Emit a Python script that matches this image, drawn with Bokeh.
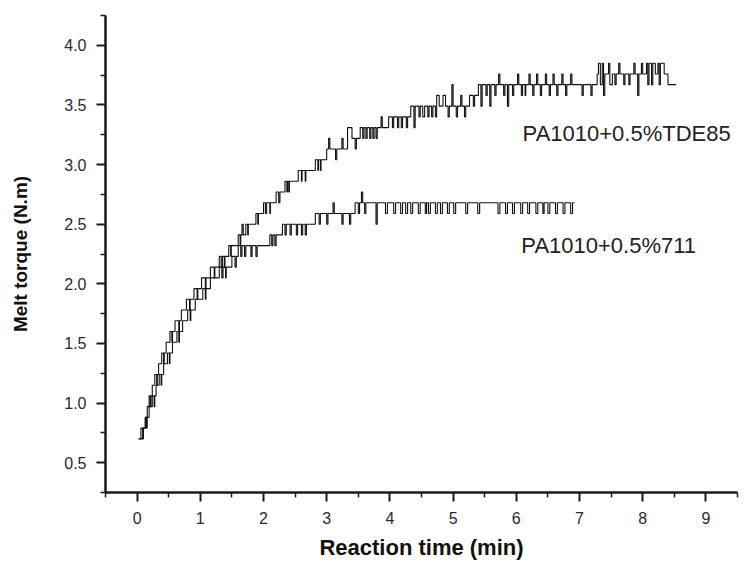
from bokeh.plotting import figure
from bokeh.models import FixedTicker, PrintfTickFormatter, Label
from bokeh.embed import file_html
from bokeh.resources import INLINE

# ---- data ----
x_ticks = [0, 1, 2, 3, 4, 5, 6, 7, 8, 9]
x_minor = [-0.5, 0.5, 1.5, 2.5, 3.5, 4.5, 5.5, 6.5, 7.5, 8.5, 9.5]
y_ticks = [0.5, 1.0, 1.5, 2.0, 2.5, 3.0, 3.5, 4.0]
y_minor = [0.25, 0.75, 1.25, 1.75, 2.25, 2.75, 3.25, 3.75, 4.25]

tde_t = [0.02, 0.06, 0.09, 0.10, 0.13, 0.16, 0.19, 0.21, 0.22, 0.24, 0.28, 0.31, 0.32, 0.34,
         0.39, 0.42, 0.43, 0.46, 0.52, 0.55, 0.56, 0.60, 0.66, 0.67, 0.70, 0.78, 0.83, 0.84,
         0.90, 0.95, 0.96, 1.02, 1.08, 1.09, 1.16, 1.22, 1.23, 1.30, 1.33, 1.35, 1.38, 1.39,
         1.45, 1.48, 1.49, 1.60, 1.63, 1.64, 1.66, 1.68, 1.72, 1.75, 1.76, 1.88, 1.91, 1.92,
         2.00, 2.03, 2.05, 2.10, 2.11, 2.20, 2.24, 2.26, 2.34, 2.37, 2.38, 2.40, 2.41, 2.55,
         2.60, 2.61, 2.66, 2.67, 2.82, 2.86, 2.87, 2.90, 2.91, 3.00, 3.03, 3.05, 3.14, 3.16,
         3.24, 3.26, 3.33, 3.40, 3.45, 3.47, 3.53, 3.57, 3.59, 3.62, 3.64, 3.68, 3.70, 3.73,
         3.75, 3.78, 3.80, 3.86, 3.88, 3.98, 4.04, 4.06, 4.12, 4.14, 4.18, 4.20, 4.26, 4.28,
         4.33, 4.38, 4.40, 4.46, 4.48, 4.52, 4.55, 4.60, 4.62, 4.66, 4.68, 4.72, 4.74, 4.78,
         4.84, 4.88, 4.92, 4.94, 4.98, 5.00, 5.05, 5.07, 5.12, 5.14, 5.18, 5.20, 5.26, 5.32,
         5.34, 5.40, 5.44, 5.46, 5.52, 5.54, 5.58, 5.60, 5.66, 5.68, 5.72, 5.74, 5.80, 5.82,
         5.86, 5.88, 5.94, 5.96, 6.02, 6.04, 6.08, 6.10, 6.14, 6.15, 6.20, 6.22, 6.26, 6.28,
         6.32, 6.34, 6.38, 6.40, 6.46, 6.48, 6.52, 6.54, 6.58, 6.60, 6.64, 6.66, 6.72, 6.74,
         6.78, 6.80, 6.86, 6.88, 7.04, 7.06, 7.18, 7.20, 7.28, 7.30, 7.33, 7.36, 7.38, 7.40,
         7.46, 7.48, 7.52, 7.56, 7.58, 7.62, 7.64, 7.70, 7.72, 7.78, 7.80, 7.86, 7.88, 7.92,
         7.94, 7.98, 8.00, 8.06, 8.08, 8.10, 8.14, 8.16, 8.20, 8.24, 8.26, 8.28, 8.34, 8.40,
         8.53]
tde_v = [0.70, 0.79, 0.70, 0.79, 0.88, 0.97, 1.06, 0.97, 1.06, 1.15, 1.24, 1.15, 1.24, 1.33,
         1.42, 1.33, 1.42, 1.51, 1.60, 1.51, 1.60, 1.69, 1.60, 1.69, 1.78, 1.87, 1.78, 1.87,
         1.96, 1.87, 1.96, 2.05, 1.96, 2.05, 2.14, 2.05, 2.14, 2.23, 2.14, 2.23, 2.14, 2.23,
         2.32, 2.23, 2.32, 2.41, 2.32, 2.41, 2.50, 2.41, 2.50, 2.41, 2.50, 2.59, 2.50, 2.59,
         2.68, 2.59, 2.68, 2.59, 2.68, 2.77, 2.68, 2.77, 2.86, 2.77, 2.86, 2.77, 2.86, 2.95,
         2.86, 2.95, 2.86, 2.95, 3.04, 2.95, 3.04, 2.95, 3.04, 3.13, 3.22, 3.13, 3.04, 3.13,
         3.22, 3.13, 3.31, 3.22, 3.13, 3.22, 3.31, 3.22, 3.31, 3.22, 3.31, 3.22, 3.31, 3.22,
         3.31, 3.22, 3.31, 3.40, 3.31, 3.40, 3.31, 3.40, 3.31, 3.40, 3.31, 3.40, 3.31, 3.40,
         3.49, 3.31, 3.49, 3.40, 3.49, 3.40, 3.49, 3.40, 3.49, 3.40, 3.49, 3.40, 3.58, 3.49,
         3.58, 3.49, 3.40, 3.49, 3.67, 3.49, 3.40, 3.49, 3.58, 3.49, 3.40, 3.49, 3.58, 3.49,
         3.58, 3.67, 3.49, 3.67, 3.58, 3.67, 3.49, 3.67, 3.58, 3.67, 3.76, 3.67, 3.58, 3.67,
         3.49, 3.67, 3.58, 3.67, 3.76, 3.67, 3.58, 3.67, 3.58, 3.67, 3.76, 3.67, 3.58, 3.67,
         3.76, 3.67, 3.58, 3.67, 3.76, 3.67, 3.58, 3.67, 3.76, 3.67, 3.58, 3.67, 3.76, 3.67,
         3.58, 3.67, 3.76, 3.67, 3.58, 3.67, 3.58, 3.67, 3.76, 3.85, 3.67, 3.85, 3.58, 3.76,
         3.85, 3.67, 3.76, 3.67, 3.76, 3.85, 3.76, 3.67, 3.76, 3.67, 3.76, 3.85, 3.76, 3.58,
         3.76, 3.85, 3.76, 3.85, 3.67, 3.85, 3.67, 3.85, 3.76, 3.85, 3.67, 3.85, 3.76, 3.67,
         3.67]

p711_t = [0.04, 0.09, 0.13, 0.15, 0.16, 0.19, 0.24, 0.27, 0.28, 0.30, 0.35, 0.38, 0.39, 0.42,
          0.48, 0.51, 0.52, 0.56, 0.63, 0.66, 0.67, 0.72, 0.80, 0.84, 0.85, 0.92, 1.04, 1.08,
          1.09, 1.16, 1.30, 1.34, 1.36, 1.40, 1.41, 1.50, 1.55, 1.57, 1.60, 1.64, 1.66, 1.70,
          1.72, 1.80, 1.82, 1.88, 1.90, 2.10, 2.13, 2.15, 2.18, 2.20, 2.30, 2.34, 2.36, 2.42,
          2.44, 2.52, 2.54, 2.60, 2.62, 2.66, 2.68, 2.82, 2.88, 2.90, 3.00, 3.02, 3.10, 3.12,
          3.24, 3.26, 3.36, 3.38, 3.45, 3.50, 3.52, 3.55, 3.57, 3.60, 3.62, 3.78, 3.80, 3.93,
          3.96, 4.06, 4.09, 4.17, 4.20, 4.25, 4.28, 4.33, 4.36, 4.45, 4.48, 4.56, 4.58, 4.61,
          4.64, 4.72, 4.75, 4.80, 4.83, 4.91, 4.94, 5.01, 5.04, 5.20, 5.23, 5.39, 5.42, 5.71,
          5.74, 5.83, 5.86, 5.94, 5.97, 6.07, 6.10, 6.18, 6.21, 6.31, 6.34, 6.42, 6.44, 6.50,
          6.53, 6.62, 6.65, 6.74, 6.77, 6.86, 6.89, 6.92]
p711_v = [0.70, 0.79, 0.88, 0.79, 0.88, 0.97, 1.06, 0.97, 1.06, 1.15, 1.24, 1.15, 1.24, 1.33,
          1.42, 1.33, 1.42, 1.51, 1.60, 1.51, 1.60, 1.69, 1.78, 1.69, 1.78, 1.87, 1.96, 1.87,
          1.96, 2.05, 2.14, 2.05, 2.14, 2.05, 2.14, 2.23, 2.14, 2.23, 2.32, 2.23, 2.32, 2.23,
          2.32, 2.23, 2.32, 2.23, 2.32, 2.41, 2.32, 2.41, 2.32, 2.41, 2.50, 2.41, 2.50, 2.41,
          2.50, 2.41, 2.50, 2.41, 2.50, 2.41, 2.50, 2.59, 2.50, 2.59, 2.50, 2.59, 2.68, 2.59,
          2.50, 2.59, 2.50, 2.59, 2.68, 2.59, 2.68, 2.77, 2.68, 2.59, 2.68, 2.50, 2.68, 2.59,
          2.68, 2.59, 2.68, 2.59, 2.68, 2.59, 2.68, 2.59, 2.68, 2.59, 2.68, 2.59, 2.68, 2.59,
          2.68, 2.59, 2.68, 2.59, 2.68, 2.59, 2.68, 2.59, 2.68, 2.59, 2.68, 2.59, 2.68, 2.59,
          2.68, 2.59, 2.68, 2.59, 2.68, 2.59, 2.68, 2.59, 2.68, 2.59, 2.68, 2.59, 2.68, 2.59,
          2.68, 2.59, 2.68, 2.59, 2.68, 2.59, 2.68, 2.68]

label_tde = "PA1010+0.5%TDE85"
label_711 = "PA1010+0.5%711"

FONT = "Liberation Sans"

p = figure(width=741, height=562, x_range=(-0.5, 9.5), y_range=(0.25, 4.25),
           output_backend="svg", toolbar_location=None,
           min_border_left=105, min_border_right=4, min_border_top=15, min_border_bottom=69)
p.outline_line_color = None
p.grid.visible = False
p.background_fill_color = "white"

p.step(tde_t, tde_v, mode="after", line_color="#111111", line_width=1.1)
p.step(p711_t, p711_v, mode="after", line_color="#111111", line_width=1.1)

p.add_layout(Label(x=6.10, y=3.26, text=label_tde, text_font=FONT, text_font_size="22px",
                   text_color="#222222", text_baseline="alphabetic"))
p.add_layout(Label(x=6.08, y=2.32, text=label_711, text_font=FONT, text_font_size="22px",
                   text_color="#222222", text_baseline="alphabetic"))

xa = p.xaxis[0]
xa.ticker = FixedTicker(ticks=x_ticks, minor_ticks=x_minor)
ya = p.yaxis[0]
ya.ticker = FixedTicker(ticks=y_ticks, minor_ticks=y_minor)
ya.formatter = PrintfTickFormatter(format="%.1f")

for ax in (xa, ya):
    ax.axis_line_width = 2.5
    ax.axis_line_color = "#1a1a1a"
    ax.major_tick_line_width = 2
    ax.major_tick_line_color = "#1a1a1a"
    ax.minor_tick_line_width = 1.5
    ax.minor_tick_line_color = "#1a1a1a"
    ax.major_tick_in = 0
    ax.major_tick_out = 9
    ax.minor_tick_in = 0
    ax.minor_tick_out = 5
    ax.major_label_text_font = FONT
    ax.major_label_text_font_size = "16px"
    ax.major_label_text_color = "#2a2a2a"
    ax.axis_label_text_font = FONT
    ax.axis_label_text_font_style = "bold"
    ax.axis_label_text_color = "#111111"
    ax.major_label_standoff = 10

xa.axis_label = "Reaction time (min)"
xa.axis_label_text_font_size = "22px"
xa.axis_label_standoff = 8
ya.axis_label = "Melt torque (N.m)"
ya.axis_label_text_font_size = "19px"
ya.axis_label_standoff = 30

open("out.html", "w").write(file_html(p, INLINE))
